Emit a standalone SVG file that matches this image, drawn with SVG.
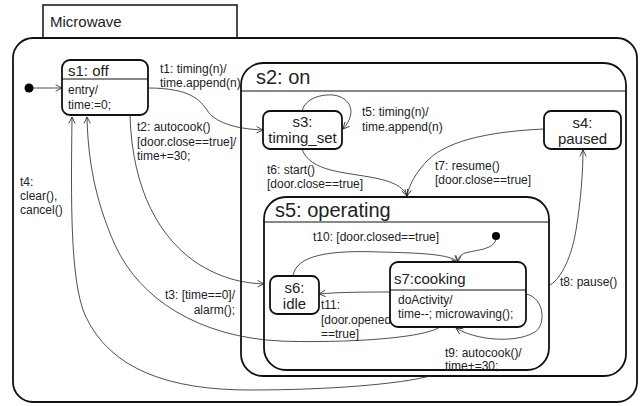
<svg xmlns="http://www.w3.org/2000/svg" width="642" height="406" viewBox="0 0 642 406">
  <style>
    text { font-family: "Liberation Sans", Arial, sans-serif; fill: #222; }
    .frame { fill: none; stroke: #111; stroke-width: 1.8; }
    .box { fill: #fff; stroke: #111; stroke-width: 1.8; }
    .div { stroke: #111; stroke-width: 1; }
    .big { font-size: 20px; }
    .name { font-size: 15px; }
    .lbl { font-size: 12px; }
    .edge { fill: none; stroke: #222; stroke-width: 0.8; marker-end: url(#open); }
    .mid { text-anchor: middle; }
    .end { text-anchor: end; }
  </style>
  <defs>
    <marker id="open" viewBox="0 0 10 10" refX="9" refY="5" markerWidth="8" markerHeight="8" markerUnits="userSpaceOnUse" orient="auto">
      <path d="M1,1 L9,5 L1,9" fill="none" stroke="#222" stroke-width="1"/>
    </marker>
  </defs>

  <!-- system frame with its name tab -->
  <g id="microwave">
    <rect x="43" y="5" width="194" height="33" fill="#fff" stroke="#111" stroke-width="1.5"/>
    <text x="50" y="27" style="font-size:15px">Microwave</text>
    <rect class="frame" x="13" y="38" width="624" height="364" rx="20"/>
  </g>

  <!-- composite state s2 -->
  <g id="s2">
    <rect class="frame" x="241" y="63" width="385" height="313" rx="22"/>
    <line class="div" x1="241" y1="91" x2="626" y2="91"/>
    <text class="big" x="256" y="84">s2: on</text>
  </g>

  <!-- composite state s5 -->
  <g id="s5">
    <rect class="frame" x="264" y="197" width="285" height="173" rx="22"/>
    <line class="div" x1="264" y1="222" x2="549" y2="222"/>
    <text class="big" x="275" y="217">s5: operating</text>
  </g>

  <!-- transitions and their labels -->
  <g id="connectors">
    <circle cx="29" cy="88" r="4.5" fill="#000"/>
    <path class="edge" d="M33,88 L62,88"/>

    <path class="edge" d="M148,88 C190,88 200,100 207,110 C214,122 235,129 263,130"/>
    <text class="lbl" x="160" y="73">t1: timing(n)/</text>
    <text class="lbl" x="160" y="87">time.append(n)</text>

    <path class="edge" d="M130,115 C132,190 160,240 200,265 C225,280 245,283 264,284"/>
    <text class="lbl" x="137" y="131">t2: autocook()</text>
    <text class="lbl" x="137" y="146">[door.close==true]/</text>
    <text class="lbl" x="137" y="160">time+=30;</text>

    <path class="edge" d="M440,327 C420,340 330,343 280,341 C200,337 140,300 115,245 C95,200 88,160 87,117"/>
    <text class="lbl end" x="235" y="299">t3: [time==0]/</text>
    <text class="lbl end" x="235" y="314">alarm();</text>

    <path class="edge" d="M430,376 C400,384 330,390 250,390 C170,390 110,370 85,315 C70,280 71,200 72,117"/>
    <text class="lbl" x="20" y="186">t4:</text>
    <text class="lbl" x="20" y="200">clear(),</text>
    <text class="lbl" x="20" y="214">cancel()</text>

    <path class="edge" d="M302,111 C305,98 322,94 333,95 C350,97 358,112 343,129"/>
    <text class="lbl" x="362" y="116">t5: timing(n)/</text>
    <text class="lbl" x="362" y="131">time.append(n)</text>

    <path class="edge" d="M302,149 C310,172 345,172 375,178 C395,182 404,188 407,196"/>
    <text class="lbl" x="267" y="174">t6: start()</text>
    <text class="lbl" x="267" y="188">[door.close==true]</text>

    <path class="edge" d="M544,129 C500,131 450,138 428,160 C416,172 409,185 407,196"/>
    <text class="lbl" x="435" y="170">t7: resume()</text>
    <text class="lbl" x="435" y="184">[door.close==true]</text>

    <path class="edge" d="M550,285 C562,278 572,255 576,230 C581,200 583,170 583,150"/>
    <text class="lbl" x="560" y="286">t8: pause()</text>

    <path class="edge" d="M526,294 C545,298 546,325 535,332 C515,344 475,340 456,328"/>
    <text class="lbl" x="445" y="357">t9: autocook()/</text>
    <text class="lbl" x="445" y="370">time+=30;</text>

    <path class="edge" d="M293,276 C296,255 330,250 380,252 C420,253 450,254 458,262"/>
    <text class="lbl" x="313" y="241">t10: [door.closed==true]</text>

    <path class="edge" d="M390,292 C370,292 340,292 319,294"/>
    <text class="lbl" x="321" y="309">t11:</text>
    <text class="lbl" x="321" y="324">[door.opened</text>
    <text class="lbl" x="321" y="338">==true]</text>

    <circle cx="496" cy="236" r="4" fill="#000"/>
    <path class="edge" d="M496,239 C494,250 475,250 465,253 C460,255 458,258 458,262"/>
  </g>

  <!-- simple states -->
  <g id="s1">
    <rect class="box" x="62" y="60" width="86" height="55" rx="8"/>
    <line class="div" x1="62" y1="79" x2="148" y2="79"/>
    <text class="name" x="68" y="76">s1: off</text>
    <text class="lbl" x="68" y="94">entry/</text>
    <text class="lbl" x="68" y="109">time:=0;</text>
  </g>

  <g id="s3">
    <rect class="box" x="263" y="111" width="79" height="38" rx="7"/>
    <text class="name mid" x="302.5" y="127">s3:</text>
    <text class="name mid" x="302.5" y="143">timing_set</text>
  </g>

  <g id="s4">
    <rect class="box" x="544" y="111" width="77" height="38" rx="7"/>
    <text class="name mid" x="582.5" y="128">s4:</text>
    <text class="name mid" x="582.5" y="144">paused</text>
  </g>

  <g id="s6">
    <rect class="box" x="270" y="276" width="49" height="38" rx="7"/>
    <text class="name mid" x="294.5" y="293">s6:</text>
    <text class="name mid" x="294.5" y="309">idle</text>
  </g>

  <g id="s7">
    <rect class="box" x="390" y="262" width="136" height="65" rx="8"/>
    <line class="div" x1="390" y1="290" x2="526" y2="290"/>
    <text class="name" x="394" y="284">s7:cooking</text>
    <text class="lbl" x="398" y="304">doActivity/</text>
    <text class="lbl" x="398" y="318">time--; microwaving();</text>
  </g>
</svg>
